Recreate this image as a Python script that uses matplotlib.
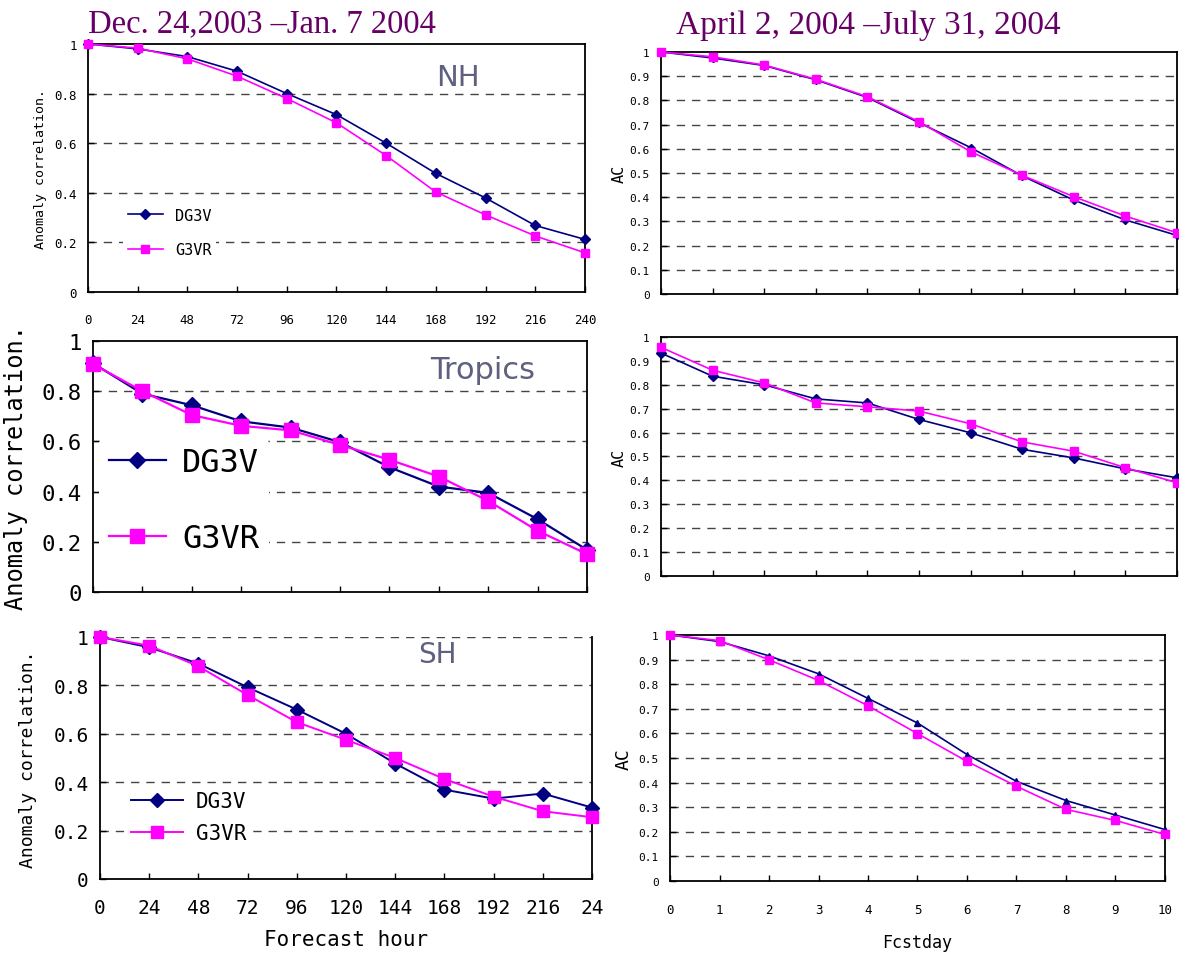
import matplotlib
matplotlib.use('Agg')
import matplotlib.pyplot as plt

# forecast hour axis (left column) and forecast day axis (right column)
hours = [0, 24, 48, 72, 96, 120, 144, 168, 192, 216, 240]
hour_labels = ['0', '24', '48', '72', '96', '120', '144', '168', '192', '216', '240']
days = [0, 1, 2, 3, 4, 5, 6, 7, 8, 9, 10]

# Dec. 24, 2003 - Jan. 7, 2004
nh_dg3v = [1.0, 0.98, 0.949, 0.89, 0.80, 0.715, 0.60, 0.478, 0.379, 0.268, 0.212]
nh_g3vr = [1.0, 0.983, 0.94, 0.87, 0.78, 0.682, 0.55, 0.403, 0.311, 0.226, 0.158]
tr_dg3v = [0.911, 0.79, 0.744, 0.68, 0.655, 0.597, 0.497, 0.42, 0.395, 0.29, 0.168]
tr_g3vr = [0.908, 0.80, 0.705, 0.662, 0.644, 0.586, 0.527, 0.46, 0.363, 0.244, 0.151]
sh_dg3v = [1.0, 0.957, 0.89, 0.792, 0.70, 0.60, 0.477, 0.369, 0.332, 0.353, 0.295]
sh_g3vr = [1.0, 0.964, 0.879, 0.76, 0.648, 0.575, 0.50, 0.413, 0.34, 0.28, 0.255]

# April 2 - July 31, 2004
nh2_dg3v = [1.0, 0.975, 0.944, 0.885, 0.812, 0.708, 0.605, 0.488, 0.388, 0.306, 0.242]
nh2_g3vr = [1.0, 0.98, 0.946, 0.887, 0.815, 0.712, 0.588, 0.49, 0.402, 0.322, 0.253]
tr2_dg3v = [0.933, 0.836, 0.80, 0.741, 0.724, 0.655, 0.599, 0.53, 0.494, 0.448, 0.411]
tr2_g3vr = [0.957, 0.861, 0.808, 0.724, 0.708, 0.69, 0.637, 0.561, 0.522, 0.453, 0.39]
sh2_dg3v = [1.0, 0.973, 0.915, 0.842, 0.742, 0.642, 0.514, 0.405, 0.327, 0.268, 0.209]
sh2_g3vr = [1.0, 0.977, 0.899, 0.815, 0.712, 0.599, 0.486, 0.385, 0.291, 0.246, 0.189]

NAVY = '#000080'
MAG = '#FF00FF'
MONO = 'DejaVu Sans Mono'
PURPLE = '#660066'
REGION = '#5F5F80'

fig = plt.figure(figsize=(11.79, 9.54), dpi=100)


def style(ax, x, yticks, ysize, xlabels=None, xsize=9, xpad=8, top_spine=True):
    ax.set_xlim(x[0], x[-1])
    ax.set_ylim(0, 1)
    ax.set_xticks(x)
    if xlabels is None:
        ax.set_xticklabels([])
    else:
        ax.set_xticklabels(xlabels, fontsize=xsize, family=MONO)
    ax.set_yticks(yticks)
    ax.set_yticklabels(['0' if v == 0 else ('1' if v == 1 else '%.1f' % v) for v in yticks],
                       fontsize=ysize, family=MONO)
    ax.tick_params(direction='in', length=4, width=1)
    ax.tick_params(axis='y', pad=8)
    ax.tick_params(axis='x', pad=xpad)
    for v in yticks:
        if 0 < v < 1 or (v == 1 and not top_spine):
            ax.axhline(v, color='#444444', lw=1, ls=(0, (6, 5)), zorder=0)
    for s in ax.spines.values():
        s.set_linewidth(1.3)
    ax.spines['top'].set_visible(top_spine)


def series(ax, x, a, b, ms_a, ms_b, mk_a='D', lw=1.2):
    ax.plot(x, a, color=NAVY, marker=mk_a, ms=ms_a, lw=lw, label='DG3V', clip_on=False, zorder=3)
    ax.plot(x, b, color=MAG, marker='s', ms=ms_b, lw=lw, label='G3VR', clip_on=False, zorder=4)


left_ticks = [0, 0.2, 0.4, 0.6, 0.8, 1]
right_ticks = [0, 0.1, 0.2, 0.3, 0.4, 0.5, 0.6, 0.7, 0.8, 0.9, 1]

# ---- top left: NH
ax1 = fig.add_axes([0.0746, 0.6929, 0.4215, 0.2600])
series(ax1, hours, nh_dg3v, nh_g3vr, 5, 6)
style(ax1, hours, left_ticks, 9, hour_labels, 9, xpad=15)
ax1.set_ylabel('Anomaly correlation.', fontsize=9.5, family=MONO, labelpad=5)
ax1.text(0.70, 0.865, 'NH', transform=ax1.transAxes, fontsize=21, color=REGION,
         family='DejaVu Sans', va='center')
ax1.legend(loc='lower left', bbox_to_anchor=(0.055, 0.09), prop={'family': MONO, 'size': 11},
           facecolor='white', edgecolor='none', framealpha=1, handlelength=2.3,
           borderpad=0.3, labelspacing=1.3)
ax1.set_title('Dec. 24,2003 \u2013Jan. 7 2004', loc='left', fontsize=23.5, color=PURPLE,
              family='Liberation Serif', pad=9)

# ---- middle left: Tropics
ax2 = fig.add_axes([0.0789, 0.3784, 0.4190, 0.2631])
series(ax2, hours, tr_dg3v, tr_g3vr, 8, 10, lw=1.6)
style(ax2, hours, left_ticks, 16)
ax2.set_ylabel('Anomaly correlation.', fontsize=17, family=MONO, labelpad=10)
ax2.text(0.682, 0.888, 'Tropics', transform=ax2.transAxes, fontsize=22, color=REGION,
         family='DejaVu Sans', va='center')
ax2.legend(loc='lower left', bbox_to_anchor=(-0.02, 0.05), prop={'family': MONO, 'size': 23},
           facecolor='white', edgecolor='none', framealpha=1, handlelength=1.8,
           handletextpad=0.5, borderpad=0.3, labelspacing=1.4)

# ---- bottom left: SH
ax3 = fig.add_axes([0.0848, 0.0776, 0.4173, 0.2537])
series(ax3, hours, sh_dg3v, sh_g3vr, 7, 8, lw=1.4)
style(ax3, hours, left_ticks, 14, hour_labels[:-1] + ['24'], 14, xpad=14, top_spine=False)
ax3.set_ylabel('Anomaly correlation.', fontsize=13, family=MONO, labelpad=12)
ax3.set_xlabel('Forecast hour', fontsize=15, family=MONO, labelpad=8)
ax3.text(0.646, 0.93, 'SH', transform=ax3.transAxes, fontsize=20, color=REGION,
         family='DejaVu Sans', va='center')
ax3.legend(loc='lower left', bbox_to_anchor=(0.03, 0.08), prop={'family': MONO, 'size': 15},
           facecolor='white', edgecolor='none', framealpha=1, handlelength=2.5,
           handletextpad=0.6, borderpad=0.3, labelspacing=0.55)

# ---- top right
ax4 = fig.add_axes([0.5606, 0.6908, 0.4377, 0.2537])
series(ax4, days, nh2_dg3v, nh2_g3vr, 4, 6)
style(ax4, days, right_ticks, 8)
ax4.set_ylabel('AC', fontsize=11, family=MONO, labelpad=2)
ax4.set_title('April 2, 2004 \u2013July 31, 2004', loc='left', fontsize=24, color=PURPLE,
              family='Liberation Serif', pad=14, x=0.03)

# ---- middle right
ax5 = fig.add_axes([0.5606, 0.3952, 0.4377, 0.2505])
series(ax5, days, tr2_dg3v, tr2_g3vr, 5, 6)
style(ax5, days, right_ticks, 8)
ax5.set_ylabel('AC', fontsize=11, family=MONO, labelpad=2)

# ---- bottom right
ax6 = fig.add_axes([0.5683, 0.0755, 0.4198, 0.2579])
series(ax6, days, sh2_dg3v, sh2_g3vr, 5, 6, mk_a='^')
style(ax6, days, right_ticks, 8, [str(d) for d in days], 9, xpad=16)
ax6.set_ylabel('AC', fontsize=13, family=MONO, labelpad=4)
ax6.set_xlabel('Fcstday', fontsize=12, family=MONO, labelpad=12)

fig.savefig('out.png', dpi=100, facecolor='white')
